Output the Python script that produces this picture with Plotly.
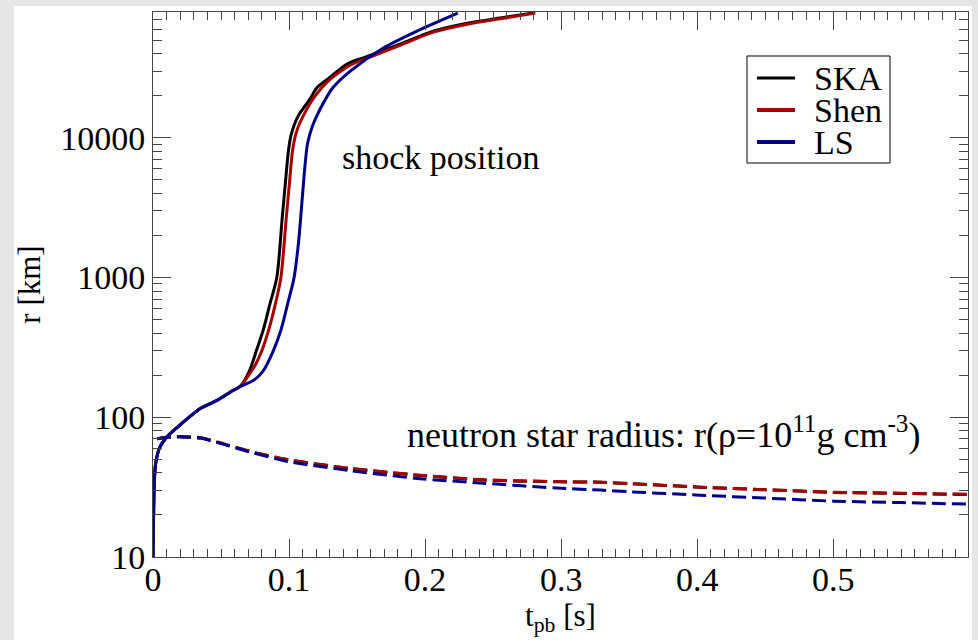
import plotly.graph_objects as go
import numpy as np

# ---- data ----
t_ska = [0.0, 0.001, 0.002, 0.005, 0.01, 0.018, 0.035, 0.047, 0.059, 0.064, 0.071, 0.076, 0.081,
         0.086, 0.091, 0.095, 0.0975, 0.0995, 0.1015, 0.104, 0.107, 0.111, 0.1155, 0.1203, 0.130,
         0.1424, 0.157, 0.182, 0.206, 0.231, 0.255, 0.279]
r_ska = [10, 35, 47, 61, 72, 85, 116, 132, 156, 166, 216, 300, 420,
         650, 1000, 2700, 5000, 8000, 10500, 12500, 14500, 16500, 19000, 22700, 27000,
         33600, 38000, 47000, 58000, 66000, 72000, 78000]

t_shen = [0.0, 0.001, 0.002, 0.005, 0.01, 0.018, 0.035, 0.047, 0.059, 0.064, 0.071, 0.075, 0.080,
          0.085, 0.090, 0.094, 0.098, 0.1005, 0.1025, 0.1048, 0.1075, 0.1115, 0.116, 0.121, 0.128,
          0.136, 0.146, 0.160, 0.182, 0.206, 0.231, 0.255, 0.281]
r_shen = [10, 35, 47, 61, 72, 85, 116, 132, 156, 166, 205, 235, 300,
          420, 650, 1000, 2700, 5000, 8000, 10500, 12500, 15000, 18000, 21000, 25000,
          29000, 33500, 38000, 46000, 57000, 65000, 71000, 78000]

t_ls = [0.0, 0.001, 0.002, 0.005, 0.01, 0.018, 0.035, 0.047, 0.059, 0.064, 0.074, 0.081, 0.0885,
        0.094, 0.099, 0.1037, 0.107, 0.1095, 0.1115, 0.1135, 0.117, 0.1225, 0.132, 0.145, 0.169,
        0.194, 0.224]
r_ls = [10, 35, 47, 61, 72, 85, 116, 132, 156, 166, 184, 215, 300,
        420, 650, 1000, 1800, 3500, 6000, 9000, 12000, 15800, 22700, 30000, 43700,
        58000, 78000]

t_ns = [0.003, 0.01, 0.02, 0.035, 0.05, 0.071, 0.1, 0.145, 0.194, 0.243, 0.3, 0.329, 0.35, 0.402,
        0.45, 0.5, 0.55, 0.598]
r_ns_ska = [70, 72, 72.5, 71, 65, 57, 49.5, 43, 38.5, 35.5, 34.5, 34.3, 33.5, 31.6,
            30.3, 29.0, 28.5, 28.0]
r_ns_shen = [70, 72, 72.5, 71.5, 65.5, 57, 49.5, 43, 38.7, 35.7, 34.6, 34.3, 33.5, 31.6,
             30.3, 29.1, 28.6, 28.1]
r_ns_ls = [70, 72, 72.5, 71, 65, 56.5, 48, 41.5, 36.5, 33.7, 31.0, 30.1, 29.3, 27.7,
           26.4, 25.1, 24.5, 23.9]

names = ["SKA", "Shen", "LS"]
colors = ["#000000", "#a80000", "#00008c"]
legend_widths = [3, 4, 4]

x_tickvals = [0, 0.1, 0.2, 0.3, 0.4, 0.5]
x_ticktext = ["0", "0.1", "0.2", "0.3", "0.4", "0.5"]
y_tickvals = [10, 100, 1000, 10000]
y_ticktext = ["10", "100", "1000", "10000"]

FONT = "Liberation Serif"

fig = go.Figure()

shock = [(t_ska, r_ska), (t_shen, r_shen), (t_ls, r_ls)]
ns = [(t_ns, r_ns_ska), (t_ns, r_ns_shen), (t_ns, r_ns_ls)]

for (tx, ry), name, c in zip(shock, names, colors):
    fig.add_trace(go.Scatter(x=tx, y=ry, mode="lines", name=name, showlegend=False,
                             line=dict(color=c, width=3, shape="spline", smoothing=0.8)))
for (tx, ry), name, c in zip(ns, names, colors):
    fig.add_trace(go.Scatter(x=tx, y=ry, mode="lines", name=name, showlegend=False,
                             line=dict(color=c, width=3, dash="14px,6px", shape="spline", smoothing=0.6)))

L, R, T, B = 153, 10, 12, 83
W, H = 978, 640
pw, ph = W - L - R, H - T - B


def px(xp):
    return (xp - L) / pw


def py(yp):
    return (H - B - yp) / ph


# white panel over the grey page
fig.add_shape(type="rect", xref="paper", yref="paper",
              x0=px(14), x1=px(972), y0=py(640), y1=py(6),
              fillcolor="white", line=dict(width=0), layer="below")

# legend box (drawn by hand to match the compact original)
fig.add_shape(type="rect", xref="paper", yref="paper",
              x0=px(747), x1=px(890), y0=py(163), y1=py(56),
              fillcolor="white", line=dict(color="black", width=1), layer="above")
for i, (name, c, lw) in enumerate(zip(names, colors, legend_widths)):
    yy = 78 + 32 * i
    fig.add_shape(type="line", xref="paper", yref="paper",
                  x0=px(757), x1=px(795), y0=py(yy), y1=py(yy),
                  line=dict(color=c, width=lw), layer="above")
    fig.add_annotation(x=px(812), y=py(yy + 1), xref="paper", yref="paper", text=name,
                       showarrow=False, xanchor="left", yanchor="middle",
                       font=dict(family=FONT, size=34, color="black"))

axis_common = dict(showline=True, linecolor="#444444", linewidth=1, mirror="allticks",
                   ticks="inside", tickcolor="#444444", ticklen=18, tickwidth=1,
                   showgrid=False, zeroline=False,
                   tickfont=dict(family=FONT, size=34, color="black"))

fig.update_xaxes(range=[0, 0.599], tickmode="array", tickvals=x_tickvals, ticktext=x_ticktext,
                 ticklabelstandoff=-8,
                 minor=dict(ticks="inside", ticklen=8, dtick=0.01, tick0=0, tickcolor="#444444", showgrid=False),
                 title=dict(text="t<sub>pb</sub> [s]", font=dict(family=FONT, size=31, color="black"), standoff=0),
                 **axis_common)
fig.update_yaxes(type="log", range=[1, 4.9], tickmode="array", tickvals=y_tickvals, ticktext=y_ticktext,
                 minor=dict(ticks="inside", ticklen=9, tickmode="array",
                            tickvals=[m * 10 ** d for d in range(1, 5) for m in range(2, 10)],
                            tickcolor="#444444", showgrid=False),
                 title=dict(text="r [km]", font=dict(family=FONT, size=31, color="black"), standoff=10),
                 **axis_common)

fig.add_annotation(x=0.1375, y=np.log10(7200), xref="x", yref="y", text="shock position",
                   showarrow=False, xanchor="left", yanchor="middle",
                   font=dict(family=FONT, size=34, color="black"))
fig.add_annotation(x=0.1855, y=np.log10(78), xref="x", yref="y",
                   text="neutron star radius: r(ρ=10<sup>11</sup>g cm<sup>-3</sup>)",
                   showarrow=False, xanchor="left", yanchor="middle",
                   font=dict(family=FONT, size=36, color="black"))

fig.update_layout(
    width=W, height=H,
    margin=dict(l=L, r=R, t=T, b=B),
    paper_bgcolor="#e6e6e6", plot_bgcolor="white",
    font=dict(family=FONT, color="black"),
    showlegend=False,
)

fig.write_html("out.html", config={"displayModeBar": False},
               post_script="document.body.style.margin='0';document.body.style.background='#e6e6e6';")
